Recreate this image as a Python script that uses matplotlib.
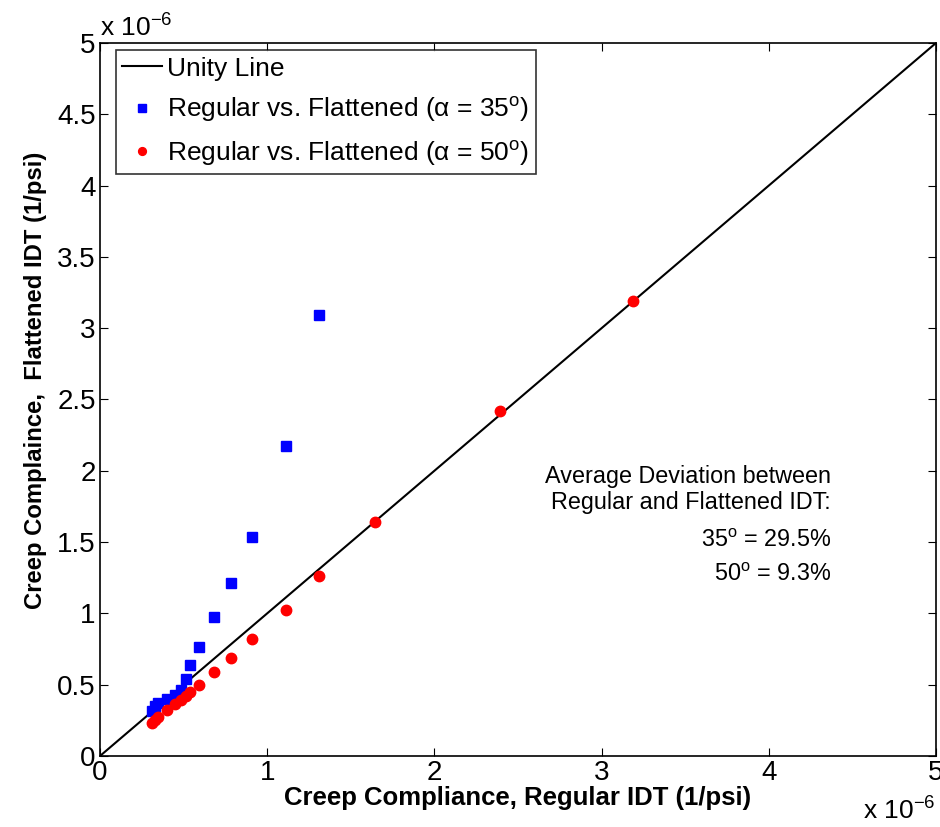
import matplotlib
matplotlib.use("Agg")
import matplotlib.pyplot as plt
from matplotlib.ticker import FuncFormatter

plt.rcParams["font.family"] = ["Liberation Sans", "DejaVu Sans"]
plt.rcParams["mathtext.fontset"] = "custom"
plt.rcParams["mathtext.rm"] = "Liberation Sans"
plt.rcParams["mathtext.it"] = "Liberation Sans:italic"

# creep compliance values, units of 1e-6 1/psi
reg_35 = [0.311, 0.329, 0.347, 0.401, 0.449, 0.484, 0.514, 0.538, 0.592,
          0.682, 0.783, 0.909, 1.112, 1.310]
flat_35 = [0.316, 0.351, 0.372, 0.400, 0.428, 0.463, 0.540, 0.638, 0.764,
           0.975, 1.213, 1.536, 2.174, 3.093]

reg_50 = [0.311, 0.329, 0.347, 0.401, 0.449, 0.484, 0.514, 0.538, 0.592,
          0.682, 0.783, 0.909, 1.112, 1.310, 1.645, 2.392, 3.188]
flat_50 = [0.231, 0.252, 0.273, 0.323, 0.365, 0.393, 0.421, 0.449, 0.498,
           0.589, 0.687, 0.820, 1.024, 1.262, 1.641, 2.419, 3.191]

unity = [0, 5]
x_ticks = [0, 1, 2, 3, 4, 5]
y_ticks = [0, 0.5, 1, 1.5, 2, 2.5, 3, 3.5, 4, 4.5, 5]

fig = plt.figure(figsize=(9.4, 8.27), dpi=100)
ax = fig.add_axes([0.1064, 0.0859, 0.8893, 0.8621])

ax.plot(unity, unity, color="black", lw=1.5, label="Unity Line")
ax.plot(reg_35, flat_35, "s", color="blue", ms=7, mec="blue",
        label="Regular vs. Flattened (\u03b1 = 35$^{\\mathrm{o}}$)")
ax.plot(reg_50, flat_50, "o", color="red", ms=7.5, mec="red",
        label="Regular vs. Flattened (\u03b1 = 50$^{\\mathrm{o}}$)")

ax.set_xlim(0, 5)
ax.set_ylim(0, 5)
ax.set_xticks(x_ticks)
ax.set_yticks(y_ticks)
ax.xaxis.set_major_formatter(FuncFormatter(lambda v, p: "%g" % v))
ax.yaxis.set_major_formatter(FuncFormatter(lambda v, p: "%g" % v))
ax.tick_params(direction="in", top=True, right=True, labelsize=20, length=6,
               pad=3)
for s in ax.spines.values():
    s.set_linewidth(1.2)

ax.set_xlabel("Creep Compliance, Regular IDT (1/psi)", fontsize=18.5,
              fontweight="bold", labelpad=0)
ax.set_ylabel("Creep Complaince,  Flattened IDT (1/psi)", fontsize=17.2,
              fontweight="bold")
ax.yaxis.set_label_coords(-0.063, 0.527)

ax.text(0.0, 1.002, "x 10$^{\\mathrm{-6}}$", transform=ax.transAxes,
        fontsize=19, ha="left", va="bottom")
ax.text(0.999, -0.058, "x 10$^{\\mathrm{-6}}$", transform=ax.transAxes,
        fontsize=19, ha="right", va="top")

leg = ax.legend(loc="upper left", bbox_to_anchor=(0.019, 0.99),
                fontsize=19, frameon=True, fancybox=False,
                edgecolor="black", borderaxespad=0, handlelength=1.5,
                handletextpad=0.2, markerscale=0.75, borderpad=0.25,
                labelspacing=0.55)
leg.get_frame().set_linewidth(1.2)

ax.text(4.37, 1.87, "Average Deviation between\nRegular and Flattened IDT:",
        fontsize=16.8, ha="right", va="center", linespacing=1.15)
ax.text(4.37, 1.51, "35$^{\\mathrm{o}}$ = 29.5%", fontsize=16.8,
        ha="right", va="center")
ax.text(4.37, 1.27, "50$^{\\mathrm{o}}$ = 9.3%", fontsize=16.8,
        ha="right", va="center")

fig.savefig("out.png", dpi=100)
